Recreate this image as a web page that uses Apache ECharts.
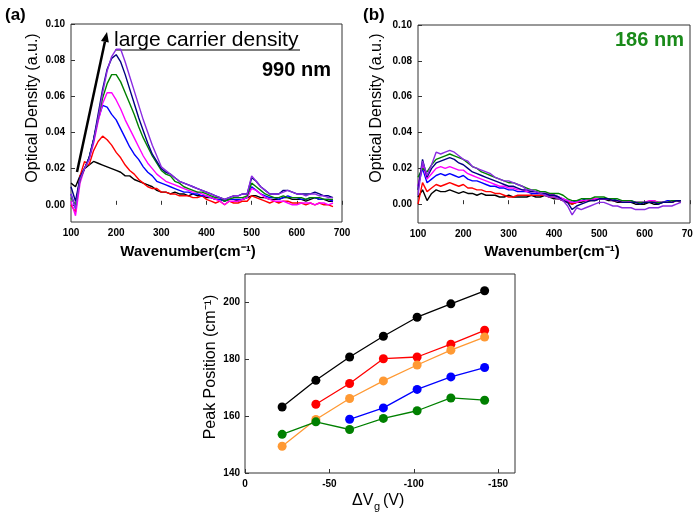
<!DOCTYPE html>
<html>
<head>
<meta charset="utf-8">
<script src="https://cdn.jsdelivr.net/npm/echarts@6/dist/echarts.min.js"></script>
<style>
html,body{margin:0;padding:0;background:#fff;}
#chart{width:693px;height:518px;}
</style>
</head>
<body>
<div id="chart"></div>
<script>
var myChart = echarts.init(document.getElementById('chart'));

// wavenumber samples (cm-1)
var wavenumbers = [100,110,120,130,140,150,160,170,180,190,
    200,210,220,230,240,250,260,270,280,290,
    300,310,320,330,340,350,360,370,380,390,
    400,410,420,430,440,450,460,470,480,490,
    500,510,520,530,540,550,560,570,580,590,
    600,610,620,630,640,650,660,670,680];

var lineColors = ['#000000','#ff0000','#0000ff','#ff00ff','#008000','#000080','#8a2be2'];

// (a) 990 nm
var a_black = [0.012,0.010,0.016,0.020,0.022,0.024,0.023,0.022,0.021,0.020,
    0.019,0.018,0.016,0.016,0.014,0.013,0.012,0.011,0.010,0.008,
    0.007,0.007,0.006,0.007,0.006,0.006,0.005,0.006,0.005,0.005,
    0.004,0.004,0.003,0.003,0.002,0.003,0.003,0.002,0.003,0.004,
    0.005,0.005,0.004,0.004,0.003,0.003,0.003,0.004,0.004,0.003,
    0.003,0.003,0.002,0.003,0.004,0.003,0.003,0.002,0.002];
var a_red = [0.000,-0.004,0.016,0.024,0.022,0.030,0.035,0.038,0.036,0.033,
    0.029,0.026,0.022,0.019,0.017,0.014,0.012,0.010,0.009,0.009,
    0.007,0.007,0.006,0.006,0.005,0.005,0.005,0.004,0.004,0.005,
    0.003,0.002,0.001,0.002,0.000,0.002,0.001,0.001,0.002,0.002,
    0.005,0.004,0.003,0.002,0.001,0.002,0.001,0.002,0.002,0.001,
    0.001,0.001,0.000,0.001,0.000,0.001,0.000,0.000,-0.001];
var a_blue = [0.006,-0.002,0.015,0.020,0.026,0.036,0.047,0.055,0.054,0.050,
    0.047,0.042,0.037,0.032,0.028,0.025,0.021,0.018,0.016,0.013,
    0.012,0.011,0.010,0.009,0.008,0.007,0.007,0.006,0.006,0.005,
    0.005,0.004,0.003,0.003,0.002,0.003,0.003,0.003,0.003,0.004,
    0.010,0.008,0.006,0.005,0.004,0.004,0.003,0.004,0.005,0.004,
    0.004,0.003,0.003,0.004,0.004,0.003,0.003,0.003,0.002];
var a_magenta = [0.002,-0.006,0.012,0.020,0.025,0.034,0.046,0.056,0.062,0.062,
    0.058,0.053,0.047,0.042,0.037,0.032,0.027,0.023,0.020,0.017,
    0.015,0.013,0.012,0.011,0.010,0.009,0.008,0.007,0.007,0.006,
    0.005,0.004,0.003,0.002,0.000,0.002,0.002,0.002,0.003,0.004,
    0.009,0.008,0.006,0.004,0.003,0.002,0.002,0.002,0.001,0.000,
    0.000,0.001,0.001,0.001,0.000,0.001,0.001,0.000,0.001];
var a_green = [0.004,0.000,0.014,0.020,0.026,0.036,0.048,0.059,0.067,0.072,
    0.072,0.068,0.062,0.056,0.050,0.043,0.037,0.032,0.027,0.023,
    0.019,0.017,0.016,0.013,0.012,0.010,0.009,0.008,0.007,0.007,
    0.006,0.005,0.004,0.004,0.002,0.003,0.004,0.004,0.004,0.005,
    0.012,0.010,0.008,0.006,0.005,0.004,0.004,0.005,0.004,0.004,
    0.004,0.004,0.003,0.004,0.004,0.004,0.003,0.003,0.003];
var a_navy = [0.010,0.002,0.015,0.020,0.026,0.036,0.050,0.064,0.075,0.081,
    0.083,0.079,0.072,0.064,0.056,0.048,0.041,0.034,0.028,0.024,
    0.020,0.018,0.017,0.015,0.013,0.012,0.011,0.010,0.009,0.008,
    0.007,0.006,0.005,0.004,0.003,0.004,0.005,0.005,0.006,0.006,
    0.015,0.013,0.010,0.008,0.006,0.006,0.006,0.008,0.008,0.007,
    0.006,0.006,0.006,0.006,0.007,0.006,0.005,0.005,0.004];
var a_purple = [0.006,-0.002,0.014,0.020,0.025,0.035,0.048,0.062,0.074,0.082,
    0.086,0.086,0.079,0.071,0.063,0.055,0.047,0.040,0.033,0.027,
    0.021,0.019,0.017,0.015,0.013,0.012,0.011,0.010,0.009,0.008,
    0.007,0.006,0.005,0.004,0.003,0.004,0.005,0.005,0.006,0.006,
    0.016,0.013,0.010,0.008,0.006,0.006,0.006,0.007,0.008,0.007,
    0.006,0.006,0.005,0.006,0.006,0.005,0.005,0.004,0.004];

// (b) 186 nm
var b_black = [0.004,0.008,0.002,0.006,0.008,0.007,0.007,0.008,0.007,0.006,
    0.007,0.006,0.006,0.005,0.006,0.005,0.005,0.005,0.004,0.004,
    0.005,0.004,0.004,0.004,0.004,0.005,0.004,0.004,0.005,0.004,
    0.003,0.003,0.002,0.001,0.000,0.001,0.001,0.002,0.002,0.002,
    0.003,0.003,0.002,0.002,0.001,0.001,0.001,0.001,0.000,0.000,
    0.000,0.001,0.000,0.000,0.001,0.001,0.001,0.002,0.001];
var b_red = [0.000,0.012,0.007,0.009,0.011,0.010,0.011,0.012,0.011,0.010,
    0.011,0.009,0.009,0.008,0.008,0.007,0.007,0.006,0.006,0.005,
    0.004,0.004,0.005,0.005,0.005,0.005,0.005,0.005,0.005,0.004,
    0.004,0.003,0.002,0.001,0.000,0.001,0.002,0.002,0.002,0.003,
    0.003,0.003,0.003,0.002,0.002,0.001,0.001,0.001,0.001,0.001,
    0.001,0.001,0.002,0.001,0.001,0.001,0.001,0.002,0.002];
var b_blue = [0.010,0.020,0.012,0.014,0.016,0.017,0.016,0.017,0.016,0.015,
    0.016,0.014,0.013,0.013,0.012,0.011,0.010,0.010,0.009,0.009,
    0.008,0.008,0.007,0.007,0.007,0.006,0.006,0.006,0.006,0.005,
    0.005,0.004,0.003,0.002,0.001,0.002,0.002,0.003,0.003,0.003,
    0.003,0.003,0.003,0.003,0.002,0.002,0.002,0.002,0.001,0.001,
    0.001,0.001,0.001,0.001,0.001,0.002,0.002,0.002,0.002];
var b_magenta = [0.010,0.022,0.014,0.017,0.020,0.021,0.020,0.021,0.020,0.019,
    0.019,0.017,0.016,0.015,0.014,0.013,0.012,0.011,0.010,0.010,
    0.009,0.009,0.008,0.008,0.007,0.007,0.007,0.006,0.006,0.006,
    0.005,0.004,0.003,0.002,0.001,0.001,0.002,0.002,0.003,0.003,
    0.003,0.003,0.003,0.002,0.002,0.002,0.002,0.001,0.001,0.001,
    0.001,0.002,0.002,0.001,0.001,0.001,0.002,0.002,0.002];
var b_green = [0.015,0.020,0.018,0.022,0.025,0.026,0.027,0.028,0.027,0.026,
    0.025,0.023,0.021,0.020,0.018,0.017,0.016,0.015,0.014,0.013,
    0.012,0.012,0.011,0.010,0.009,0.008,0.008,0.007,0.007,0.006,
    0.006,0.006,0.005,0.003,0.002,0.002,0.003,0.003,0.003,0.004,
    0.004,0.004,0.003,0.003,0.003,0.002,0.002,0.002,0.001,0.001,
    0.001,0.001,0.001,0.001,0.001,0.001,0.002,0.002,0.002];
var b_navy = [0.008,0.025,0.015,0.020,0.023,0.024,0.025,0.026,0.025,0.023,
    0.022,0.020,0.018,0.017,0.016,0.015,0.014,0.013,0.012,0.011,
    0.010,0.010,0.009,0.008,0.008,0.007,0.007,0.006,0.006,0.005,
    0.005,0.004,0.002,0.001,-0.003,-0.001,0.000,0.001,0.002,0.002,
    0.003,0.003,0.003,0.002,0.002,0.001,0.001,0.001,0.001,0.000,
    0.001,0.001,0.001,0.000,0.001,0.001,0.001,0.002,0.002];
var b_purple = [0.005,0.024,0.016,0.022,0.029,0.028,0.029,0.030,0.029,0.027,
    0.025,0.024,0.021,0.020,0.019,0.018,0.017,0.015,0.014,0.013,
    0.013,0.012,0.011,0.010,0.008,0.008,0.007,0.006,0.005,0.004,
    0.004,0.003,0.002,-0.001,-0.006,-0.002,-0.003,-0.002,-0.001,0.000,
    0.001,0.001,0.000,-0.001,-0.001,-0.002,-0.002,-0.002,-0.003,-0.003,
    -0.003,-0.002,-0.002,-0.002,-0.001,-0.001,-0.001,0.000,0.001];

// (c) peak position vs gate voltage
var deltaVg = [-22,-42,-62,-82,-102,-122,-142];
var peakBlack = [163.2,172.6,180.8,188.1,194.8,199.5,204.1];
var peakRed = [null,164.2,171.5,180.2,180.8,185.3,190.2];
var peakOrange = [149.4,158.8,166.2,172.4,178.0,183.2,187.8];
var peakBlue = [null,null,158.9,162.9,169.4,173.8,177.1];
var peakGreen = [153.6,158.0,155.3,159.2,161.9,166.4,165.6];
var peakColors = ['#000000','#ff0000','#ff9933','#0000ff','#008000'];

var spectraA = [a_black,a_red,a_blue,a_magenta,a_green,a_navy,a_purple];
var spectraB = [b_black,b_red,b_blue,b_magenta,b_green,b_navy,b_purple];
var peaks = [peakBlack,peakRed,peakOrange,peakBlue,peakGreen];

var FONT = "'Liberation Sans', Arial, sans-serif";

function pairs(xs, ys) {
    var out = [];
    for (var i = 0; i < xs.length; i++) {
        if (ys[i] !== null) out.push([xs[i], ys[i]]);
    }
    return out;
}

function specXAxis(idx) {
    return {
        gridIndex: idx, type: 'value', min: 100, max: 700, interval: 100,
        axisLine: {show: false},
        axisTick: {inside: true, length: 4, lineStyle: {color: '#333'}},
        axisLabel: {margin: 6, fontSize: 10, fontWeight: 'bold', color: '#000', fontFamily: FONT},
        splitLine: {show: false}
    };
}
function specYAxis(idx, min) {
    var ticks = [0, 0.02, 0.04, 0.06, 0.08, 0.10];
    return {
        gridIndex: idx, type: 'value', min: min, max: 0.10,
        axisLine: {show: false},
        axisTick: {inside: true, length: 4, customValues: ticks, lineStyle: {color: '#333'}},
        axisLabel: {margin: 6, fontSize: 10, fontWeight: 'bold', color: '#000', fontFamily: FONT,
            customValues: ticks,
            formatter: function (v) { return v.toFixed(2); }},
        splitLine: {show: false}
    };
}

var series = [];
for (var i = 0; i < spectraA.length; i++) {
    series.push({
        type: 'line', xAxisIndex: 0, yAxisIndex: 0, showSymbol: false, animation: false,
        data: pairs(wavenumbers, spectraA[i]),
        lineStyle: {color: lineColors[i], width: 1.4}
    });
}
for (var i = 0; i < spectraB.length; i++) {
    series.push({
        type: 'line', xAxisIndex: 1, yAxisIndex: 1, showSymbol: false, animation: false,
        data: pairs(wavenumbers, spectraB[i]),
        lineStyle: {color: lineColors[i], width: 1.4}
    });
}
for (var i = 0; i < peaks.length; i++) {
    series.push({
        type: 'line', xAxisIndex: 2, yAxisIndex: 2, animation: false,
        data: pairs(deltaVg, peaks[i]),
        symbol: 'circle', symbolSize: 9,
        itemStyle: {color: peakColors[i]},
        lineStyle: {color: peakColors[i], width: 1.3}
    });
}

// arrow "large carrier density"
var ax0 = 77, ay0 = 172, ax1 = 107, ay1 = 32;
var len = Math.sqrt((ax1 - ax0) * (ax1 - ax0) + (ay1 - ay0) * (ay1 - ay0));
var ux = (ax1 - ax0) / len, uy = (ay1 - ay0) / len;
var bx = ax1 - ux * 10, by = ay1 - uy * 10;

function txt(x, y, text, font, opts) {
    var o = {type: 'text', x: x, y: y, style: {text: text, font: font, fill: '#000', align: 'left', verticalAlign: 'middle'}};
    if (opts) {
        for (var k in opts) o.style[k] = opts[k];
    }
    return o;
}
function vtxt(x, y, text, font) {
    return {type: 'text', x: x, y: y, rotation: Math.PI / 2,
        style: {text: text, font: font, fill: '#000', align: 'center', verticalAlign: 'middle'}};
}

myChart.setOption({
    backgroundColor: '#fff',
    animation: false,
    grid: [
        {left: 71, top: 24, width: 271, height: 198, outerBoundsMode: 'none', show: true, borderColor: '#333', borderWidth: 1, backgroundColor: 'transparent'},
        {left: 418, top: 25, width: 272, height: 198, outerBoundsMode: 'none', show: true, borderColor: '#333', borderWidth: 1, backgroundColor: 'transparent'},
        {left: 245, top: 274, width: 270, height: 199, outerBoundsMode: 'none', show: true, borderColor: '#333', borderWidth: 1, backgroundColor: 'transparent'}
    ],
    xAxis: [
        specXAxis(0),
        specXAxis(1),
        {
            gridIndex: 2, type: 'value', min: -160, max: 0, inverse: true,
            axisLine: {show: false},
            axisTick: {inside: true, length: 4, customValues: [0, -50, -100, -150], lineStyle: {color: '#333'}},
            axisLabel: {margin: 6, fontSize: 10, fontWeight: 'bold', color: '#000', fontFamily: FONT,
                customValues: [0, -50, -100, -150]},
            splitLine: {show: false}
        }
    ],
    yAxis: [
        specYAxis(0, -0.0095),
        specYAxis(1, -0.0105),
        {
            gridIndex: 2, type: 'value', min: 140, max: 210, interval: 20,
            axisLine: {show: false},
            axisTick: {inside: true, length: 4, lineStyle: {color: '#333'}},
            axisLabel: {margin: 5, fontSize: 10, fontWeight: 'bold', color: '#000', fontFamily: FONT,
                showMaxLabel: false},
            splitLine: {show: false}
        }
    ],
    series: series,
    graphic: [
        txt(5, 15, '(a)', 'bold 17px ' + FONT),
        txt(363, 15, '(b)', 'bold 17px ' + FONT),
        txt(114, 40, 'large carrier density', '21px ' + FONT),
        {type: 'line', shape: {x1: 115, y1: 50, x2: 300, y2: 50}, style: {stroke: '#000', lineWidth: 1}},
        txt(262, 70, '990 nm', 'bold 20px ' + FONT),
        txt(615, 40, '186 nm', 'bold 20px ' + FONT, {fill: '#1a8a1a'}),
        {type: 'line', shape: {x1: ax0, y1: ay0, x2: bx, y2: by}, style: {stroke: '#000', lineWidth: 2.5}},
        {type: 'polygon', shape: {points: [[ax1, ay1], [bx + uy * 4, by - ux * 4], [bx - uy * 4, by + ux * 4]]}, style: {fill: '#000'}},
        vtxt(33, 108, 'Optical Density (a.u.)', '16px ' + FONT),
        vtxt(377, 108, 'Optical Density (a.u.)', '16px ' + FONT),
        txt(188, 252, 'Wavenumber(cm⁻¹)', 'bold 15px ' + FONT, {align: 'center'}),
        txt(552, 252, 'Wavenumber(cm⁻¹)', 'bold 15px ' + FONT, {align: 'center'}),
        vtxt(211, 367, 'Peak Position (cm⁻¹)', '16px ' + FONT),
        txt(352, 501, 'ΔV', '16px ' + FONT),
        txt(374, 507, 'g', '11px ' + FONT),
        txt(383, 501, '(V)', '16px ' + FONT)
    ]
});
</script>
</body>
</html>
